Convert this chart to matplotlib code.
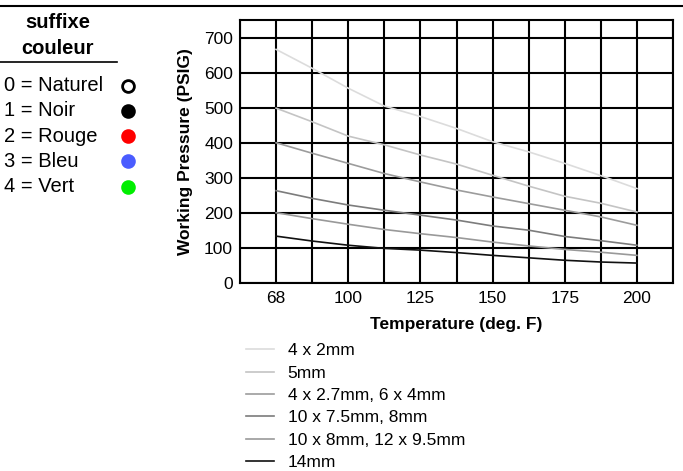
import numpy as np
import matplotlib.pyplot as plt
from matplotlib.lines import Line2D

plt.rcParams['font.family'] = ['Liberation Sans', 'DejaVu Sans']

# x ticks are evenly spaced on the chart, although the temperatures are not
tick_temps = [68, 100, 125, 150, 175, 200]
# sample temperatures: tick values and the grid lines between them
temps = [68, 84, 100, 112.5, 125, 137.5, 150, 162.5, 175, 187.5, 200]

p_4x2 = [668, 614, 557, 506, 476, 442, 404, 375, 342, 307, 270]
p_5mm = [500, 461, 420, 395, 366, 340, 308, 277, 248, 228, 203]
p_4x27 = [401, 371, 342, 313, 289, 266, 246, 227, 208, 189, 165]
p_10x75 = [264, 242, 223, 208, 194, 180, 163, 151, 133, 121, 108]
p_10x8 = [201, 184, 168, 153, 141, 130, 117, 106, 96, 88, 79]
p_14mm = [134, 120, 108, 99, 94, 87, 79, 72, 65, 60, 57]

series = [p_4x2, p_5mm, p_4x27, p_10x75, p_10x8, p_14mm]
labels = ['4 x 2mm', '5mm', '4 x 2.7mm, 6 x 4mm', '10 x 7.5mm, 8mm',
          '10 x 8mm, 12 x 9.5mm', '14mm']
colors = ['#dcdcdc', '#c4c4c4', '#9c9c9c', '#7c7c7c', '#999999', '#111111']

couleurs = ['0 = Naturel', '1 = Noir', '2 = Rouge', '3 = Bleu', '4 = Vert']
pastilles = ['white', 'black', '#ff0000', '#4a5cff', '#00ee00']

# temperature -> grid position (68 sits at 1, 200 at 11, box from 0 to 12)
knots_t = [52, 68, 100, 125, 150, 175, 200, 212.5]
knots_p = [0, 1, 3, 5, 7, 9, 11, 12]


def fwd(t):
    return np.interp(t, knots_t, knots_p)


def inv(p):
    return np.interp(p, knots_p, knots_t)


W, H = 683, 471
fig = plt.figure(figsize=(W / 100, H / 100), dpi=100)
ax = fig.add_axes([240 / W, 1 - 283 / H, 433 / W, 263 / H])
ax.set_xscale('function', functions=(fwd, inv))

for vals, lab, col in zip(series, labels, colors):
    ax.plot(temps, vals, color=col, lw=1.2, label=lab, zorder=3)

ax.set_xlim(52, 212.5)
ax.set_ylim(0, 752)
ax.set_xticks(tick_temps)
ax.set_xticklabels([str(t) for t in tick_temps])
ax.set_xticks(inv(np.arange(0, 13)), minor=True)
ax.set_yticks(range(0, 800, 100))
ax.grid(True, which='both', axis='x', color='black', lw=1.5)
ax.grid(True, axis='y', color='black', lw=1.5)
ax.tick_params(which='both', length=0, labelsize=12.5)
ax.tick_params(axis='x', pad=6)
ax.tick_params(axis='y', pad=5)
for s in ax.spines.values():
    s.set_linewidth(1.5)

ax.set_xlabel('Temperature (deg. F)', fontsize=12.5, fontweight='bold', labelpad=8)
ax.set_ylabel('Working Pressure (PSIG)', fontsize=12.5, fontweight='bold', labelpad=8)

fig.legend(loc='upper left', bbox_to_anchor=(246 / W, 1 - 343 / H), frameon=False,
           fontsize=12.5, handlelength=1.6, handletextpad=0.8, labelspacing=0.42,
           borderpad=0, borderaxespad=0)

# regle du haut et bloc "suffixe couleur"
fig.add_artist(Line2D([0, 1], [1 - 6 / H, 1 - 6 / H], color='black', lw=1.5))
fig.text(58 / W, 1 - 23 / H, 'suffixe', ha='center', va='center', fontsize=14.5, fontweight='bold')
fig.text(58 / W, 1 - 48 / H, 'couleur', ha='center', va='center', fontsize=14.5, fontweight='bold')
fig.add_artist(Line2D([0, 117 / W], [1 - 62 / H, 1 - 62 / H], color='black', lw=1.2))
for i, (txt, c) in enumerate(zip(couleurs, pastilles)):
    y = 1 - (85.5 + 25.3 * i) / H
    fig.text(4 / W, y, txt, ha='left', va='center', fontsize=14.5)
    fig.add_artist(Line2D([128 / W], [y], marker='o', markersize=8.5, color=c,
                          markeredgecolor='black' if c == 'white' else c, markeredgewidth=2))

plt.savefig('out.png', dpi=100)
